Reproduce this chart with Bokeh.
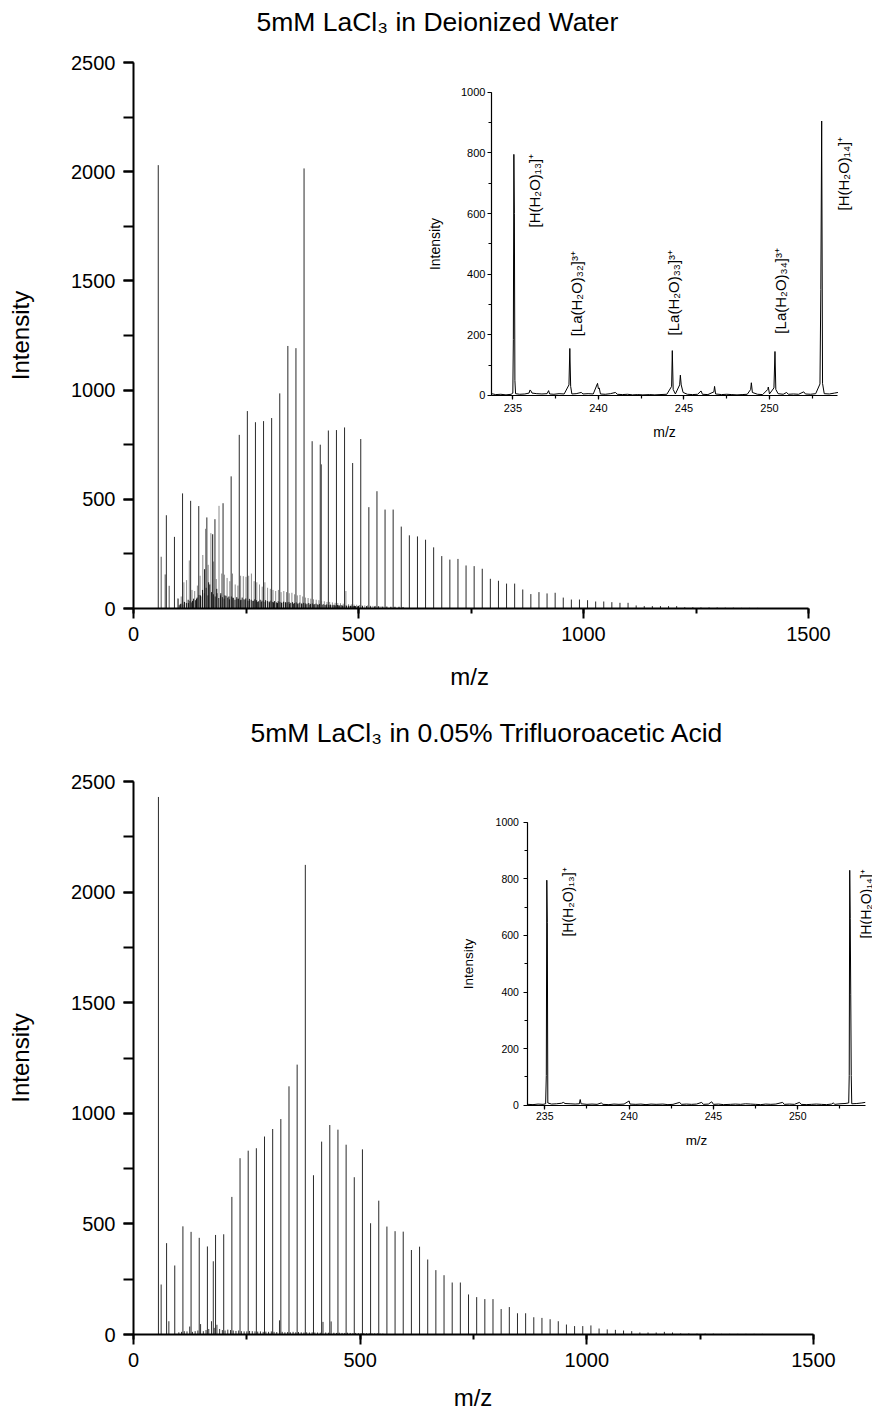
from math import pi
from bokeh.plotting import figure
from bokeh.models import (Range1d, SingleIntervalTicker, FixedTicker, ColumnDataSource, LabelSet, LinearAxis,
                          Title)
from bokeh.layouts import column
from bokeh.embed import file_html
from bokeh.resources import INLINE
from bokeh.core.properties import value

FONT = "Liberation Sans"

# ---------------- data ----------------
# protonated water clusters H+(H2O)n, n = 3 ... 77
water_mz = [55, 73, 91, 109, 127, 145, 163, 181, 199, 217, 235, 253, 271, 289, 307, 325, 343, 361, 379, 397,
            415, 433, 451, 469, 487, 505, 523, 541, 559, 577, 595, 613, 631, 649, 667, 685, 703, 721, 739, 757,
            775, 793, 811, 829, 847, 865, 883, 901, 919, 937, 955, 973, 991, 1009, 1027, 1045, 1063, 1081, 1099, 1117,
            1135, 1153, 1171, 1189, 1207, 1225, 1243, 1261, 1279, 1297, 1315, 1333, 1351, 1369, 1387]
water_int_dw = [2030, 427, 328, 527, 493, 469, 417, 409, 482, 605,
                795, 904, 853, 858, 872, 985, 1202, 1192, 2015, 766,
                750, 815, 817, 829, 666, 776, 464, 537, 453, 453,
                375, 335, 330, 315, 280, 240, 224, 227, 197, 194,
                182, 136, 127, 114, 114, 87, 66, 75, 69, 72,
                50, 41, 41, 38, 32, 32, 29, 26, 26, 14,
                11, 11, 11, 11, 11, 6, 6, 5, 5, 5,
                4, 4, 3, 3, 3]
water_int_tfa = [2430, 413, 312, 489, 464, 437, 398, 450, 453, 622,
                 797, 831, 842, 895, 929, 974, 1122, 1220, 2123, 720,
                 872, 947, 926, 858, 711, 837, 503, 605, 488, 467,
                 465, 382, 397, 339, 291, 268, 235, 235, 181, 169,
                 160, 160, 115, 124, 96, 96, 78, 75, 69, 60,
                 45, 38, 38, 41, 27, 23, 21, 18, 15, 9,
                 9, 9, 12, 9, 5, 5, 4, 4, 4, 3,
                 3, 3, 3, 3, 3]

# La(H2O)n 3+ region (6 m/z spacing)
la3_mz = [100, 106, 112, 118, 124, 130, 136, 142, 148, 154, 160, 166, 172, 178, 184, 190, 196, 202, 208, 214,
          220, 226, 232, 238, 244, 250, 256, 262, 268, 274, 280, 286, 292, 298, 304, 310, 316, 322, 328, 334,
          340, 346, 352, 358, 364, 370, 376, 382, 388, 394, 400, 406, 412, 418, 424, 430, 436, 442, 448, 454,
          460, 466, 472, 478, 484, 490, 496, 502, 508, 514, 520, 526, 532, 538, 544, 550]
la3_int_dw = [45, 55, 120, 130, 220, 85, 80, 105, 150, 245,
              365, 200, 345, 215, 135, 470, 160, 155, 140, 125,
              160, 110, 105, 150, 148, 145, 150, 160, 125, 120,
              110, 100, 120, 95, 90, 85, 80, 85, 75, 80,
              75, 70, 72, 65, 60, 62, 55, 50, 48, 45,
              42, 40, 38, 35, 33, 30, 30, 28, 26, 25,
              24, 22, 80, 20, 19, 18, 17, 16, 15, 14,
              14, 13, 12, 12, 11, 10]
la3_int_tfa = [10, 12, 15, 14, 36, 12, 15, 18, 47, 15,
               20, 25, 60, 30, 44, 25, 20, 18, 22, 20,
               18, 16, 18, 15, 14, 14, 16, 15, 14, 13,
               14, 12, 13, 12, 14, 12, 11, 64, 12, 10,
               11, 10, 12, 10, 11, 10, 9, 10, 9, 10,
               9, 9, 8, 57, 9, 8, 59, 8, 7, 8,
               7, 7, 8, 7, 6, 7, 6, 6, 6, 5,
               5, 5, 5, 5, 4, 4]

# doubly charged series (9 m/z spacing), deionized water only
la2_mz = [104, 113, 122, 131, 140, 149, 158, 167, 176, 185, 194, 203, 212, 221, 230, 239, 248, 257, 266, 275,
          284, 293, 302, 311, 320, 329, 338, 347, 356, 365, 374, 383, 392, 401, 410, 419, 428, 437, 446, 455,
          464, 473, 482, 491, 500, 509, 518, 527, 536, 545, 554, 563, 572, 581, 590, 599]
la2_int_dw = [20, 30, 25, 35, 45, 60, 180, 120, 340, 90,
              70, 60, 55, 50, 45, 40, 40, 35, 35, 30,
              30, 30, 28, 28, 25, 25, 25, 22, 22, 20,
              20, 18, 18, 18, 16, 16, 15, 15, 14, 14,
              13, 13, 12, 12, 12, 11, 11, 10, 10, 10,
              9, 9, 8, 8, 8, 7]

# dense low-level signal band (deionized water)
band_mz = [101.5, 105.5, 109.5, 113.5, 117.5, 121.5, 125.5, 129.5, 133.5, 137.5,
           141.5, 145.5, 149.5, 153.5, 157.5, 161.5, 165.5, 169.5, 173.5, 177.5,
           181.5, 185.5, 189.5, 193.5, 197.5, 201.5, 205.5, 209.5, 213.5, 217.5,
           221.5, 225.5, 229.5, 233.5, 237.5, 241.5, 245.5, 249.5, 253.5, 257.5,
           261.5, 265.5, 269.5, 273.5, 277.5, 281.5, 285.5, 289.5, 293.5, 297.5,
           301.5, 305.5, 309.5, 313.5, 317.5, 321.5, 325.5, 329.5, 333.5, 337.5,
           341.5, 345.5, 349.5, 353.5, 357.5, 361.5, 365.5, 369.5, 373.5, 377.5,
           381.5, 385.5, 389.5, 393.5, 397.5, 401.5, 405.5, 409.5, 413.5, 417.5,
           421.5, 425.5, 429.5, 433.5, 437.5, 441.5, 445.5, 449.5, 453.5, 457.5,
           461.5, 465.5, 469.5, 473.5, 477.5, 481.5, 485.5, 489.5, 493.5, 497.5]
band_int_dw = [15, 22, 18, 30, 25, 40, 35, 28, 45, 38,
               50, 62, 55, 85, 70, 95, 60, 110, 75, 65,
               55, 70, 48, 60, 52, 45, 58, 50, 42, 55,
               48, 40, 52, 45, 38, 50, 42, 46, 36, 44,
               40, 35, 42, 38, 33, 40, 36, 30, 38, 34,
               32, 36, 30, 34, 28, 33, 30, 27, 31, 29,
               28, 30, 26, 29, 25, 28, 24, 27, 23, 26,
               24, 22, 25, 21, 23, 20, 22, 19, 21, 18,
               20, 17, 19, 16, 18, 15, 17, 14, 16, 14,
               15, 13, 14, 12, 13, 12, 12, 11, 11, 10]

# other single peaks
extra_mz_dw = [61.5, 70.4, 79.3, 98.5, 417.5]
extra_int_dw = [237, 156, 104, 46, 660]
extra_mz_tfa = [61, 78, 176]
extra_int_tfa = [226, 60, 331]

# inset spectra (zoom 234 - 254 m/z)
inset_dw_mz = [233.75, 234.0, 234.3, 234.6, 234.9, 235.0, 235.03, 235.06, 235.09, 235.12, 235.16, 235.4, 235.7,
               235.95, 236.0, 236.05, 236.12, 236.4, 236.7, 237.0, 237.09, 237.15, 237.4, 237.7, 238.0, 238.28,
               238.33, 238.38, 238.45, 238.7, 239.0, 239.1, 239.4, 239.7, 239.95, 240.0, 240.05, 240.12, 240.4,
               240.7, 241.0, 241.1, 241.4, 241.7, 242.0, 242.3, 242.6, 243.0, 243.3, 243.6, 244.0, 244.28, 244.32,
               244.37, 244.5, 244.75, 244.79, 244.84, 244.95, 245.2, 245.5, 245.8, 246.0, 246.08, 246.4, 246.75,
               246.79, 246.85, 247.2, 247.5, 247.8, 248.1, 248.4, 248.7, 248.9, 248.94, 249.0, 249.3, 249.6,
               249.9, 249.93, 250.0, 250.26, 250.32, 250.37, 250.5, 250.8, 251.0, 251.1, 251.4, 251.7, 252.0,
               252.1, 252.4, 252.7, 252.95, 253.0, 253.05, 253.1, 253.2, 253.5, 253.8, 254.0]
inset_dw_int = [6, 3, 4, 2, 4, 8, 185, 795, 600, 50, 6, 4, 5,
                8, 18, 16, 8, 6, 5, 6, 16, 5, 4, 6, 5, 35,
                155, 30, 5, 6, 10, 5, 6, 5, 40, 22, 25, 5, 4,
                6, 10, 4, 3, 4, 2, 3, 2, 3, 2, 3, 4, 30, 148,
                20, 5, 35, 67, 35, 10, 4, 3, 4, 15, 4, 3, 12,
                30, 5, 3, 4, 3, 2, 3, 4, 20, 42, 10, 4, 3,
                20, 28, 5, 25, 145, 20, 6, 4, 10, 4, 5, 4, 12,
                5, 4, 6, 38, 350, 905, 40, 6, 5, 8, 10]
inset_tfa_mz = [234.0, 234.3, 234.6, 234.9, 235.05, 235.09, 235.12, 235.15, 235.18, 235.4, 235.7, 236.0, 236.1,
                236.2, 236.5, 236.8, 237.05, 237.1, 237.15, 237.5, 237.8, 238.1, 238.35, 238.45, 238.8, 239.1,
                239.4, 239.7, 240.0, 240.05, 240.4, 240.7, 241.0, 241.3, 241.6, 242.0, 242.3, 242.6, 243.0, 243.1,
                243.4, 243.7, 244.0, 244.3, 244.4, 244.7, 244.9, 245.0, 245.3, 245.6, 246.0, 246.3, 246.6, 246.9,
                247.2, 247.5, 247.8, 248.1, 248.4, 248.7, 249.1, 249.2, 249.5, 249.8, 250.1, 250.2, 250.5, 250.8,
                251.1, 251.4, 251.7, 252.0, 252.1, 252.2, 252.5, 252.8, 253.02, 253.05, 253.08, 253.11, 253.14,
                253.17, 253.2, 253.5, 253.8, 254.0]
inset_tfa_int = [3, 2, 4, 3, 5, 105, 795, 645, 8, 4, 5, 7, 10,
                 6, 5, 4, 5, 20, 5, 3, 4, 3, 8, 3, 2, 4,
                 3, 4, 15, 4, 3, 4, 2, 4, 3, 4, 2, 3, 10, 3,
                 4, 3, 4, 10, 3, 4, 12, 3, 4, 2, 3, 4, 3, 5,
                 4, 3, 2, 4, 3, 4, 10, 3, 4, 3, 10, 3, 2, 3,
                 4, 3, 2, 4, 8, 3, 5, 6, 8, 105, 830, 660, 390,
                 105, 5, 6, 8, 10]

# inset annotations
ann_dw_text = ["[H(H\u2082O)\u2081\u2083]\u207a", "[La(H\u2082O)\u2083\u2082]\u00b3\u207a",
               "[La(H\u2082O)\u2083\u2083]\u00b3\u207a", "[La(H\u2082O)\u2083\u2084]\u00b3\u207a",
               "[H(H\u2082O)\u2081\u2084]\u207a"]
ann_dw_x = [236.27, 238.70, 244.40, 250.65, 254.31]
ann_dw_y = [554, 195, 198, 204, 610]
ann_tfa_text = ["[H(H\u2082O)\u2081\u2083]\u207a", "[H(H\u2082O)\u2081\u2084]\u207a"]
ann_tfa_x = [236.38, 254.07]
ann_tfa_y = [596, 589]

TITLE_DW = "5mM LaCl\u2083 in Deionized Water"
TITLE_TFA = "5mM LaCl\u2083 in 0.05% Trifluoroacetic Acid"
NB = "\u00a0"

STICK = "#2a2a2a"


def style_axis(ax, tick_font, label_font, tick_out, minor_out, lw, lab_standoff, tick_standoff):
    ax.axis_line_width = lw
    ax.axis_line_color = "black"
    ax.major_tick_line_width = lw
    ax.minor_tick_line_width = lw
    ax.major_tick_line_color = "black"
    ax.minor_tick_line_color = "black"
    ax.major_tick_in = 0
    ax.minor_tick_in = 0
    ax.major_tick_out = tick_out
    ax.minor_tick_out = minor_out
    ax.major_label_text_font = FONT
    ax.major_label_text_font_size = tick_font
    ax.major_label_text_color = "black"
    ax.axis_label_text_font = FONT
    ax.axis_label_text_font_size = label_font
    ax.axis_label_text_font_style = "normal"
    ax.axis_label_text_color = "black"
    ax.axis_label_standoff = lab_standoff
    ax.major_label_standoff = tick_standoff


def make_panel(title, tsize, title_gap, toffset, height, mb_top, mb_bottom, x_end,
               xlab_standoff, xlab_pad, series, inset):
    p = figure(width=872, height=height, x_range=Range1d(0, x_end), y_range=Range1d(0, 2500),
               output_backend="svg", toolbar_location=None, title=None,
               min_border_left=133, min_border_right=0,
               min_border_top=mb_top, min_border_bottom=mb_bottom)
    p.outline_line_color = None
    p.grid.visible = False

    xax = p.xaxis[0]
    yax = p.yaxis[0]
    xax.ticker = SingleIntervalTicker(interval=500, num_minor_ticks=2)
    yax.ticker = SingleIntervalTicker(interval=500, num_minor_ticks=2)
    xax.bounds = (0, 1500)
    xax.axis_label = "m/z" + NB * xlab_pad
    yax.axis_label = "Intensity"
    style_axis(xax, "20px", "24px", 10, 5, 2, xlab_standoff, 8)
    style_axis(yax, "20px", "24px", 10, 10, 2, 34, 8)

    # blank spacer between plot area and title, then the title
    gap = LinearAxis(ticker=FixedTicker(ticks=[750]), axis_line_color="white",
                     major_tick_line_color="white", minor_tick_line_color="white",
                     major_label_overrides={750: ""}, major_label_text_font_size="1px",
                     major_tick_in=0, minor_tick_in=0, major_tick_out=title_gap, minor_tick_out=0,
                     major_label_standoff=0)
    p.add_layout(gap, "above")
    p.add_layout(Title(text=title, text_font=FONT, text_font_size=tsize, text_font_style="normal",
                       text_color="black", align="left", offset=toffset, standoff=2), "above")

    for mz, inten, col in series:
        src = ColumnDataSource(dict(x=mz, y0=[0] * len(mz), y1=inten))
        p.segment(x0="x", y0="y0", x1="x", y1="y1", source=src, line_color=col, line_width=1)

    # ----- inset drawn on its own ranges -----
    (ixr, iyr, xb, mz, inten, ann, tick_font, label_font, ann_font,
     y_tick_standoff, y_lab_standoff, x_tick_standoff, x_lab_standoff) = inset
    p.extra_x_ranges = {"ix": Range1d(*ixr)}
    p.extra_y_ranges = {"iy": Range1d(*iyr)}
    ax_x = LinearAxis(x_range_name="ix", y_range_name="iy", fixed_location=0, bounds=xb,
                      ticker=SingleIntervalTicker(interval=5, num_minor_ticks=2), axis_label="m/z")
    ax_y = LinearAxis(x_range_name="ix", y_range_name="iy", fixed_location=xb[0], bounds=(0, 1000),
                      ticker=SingleIntervalTicker(interval=200, num_minor_ticks=2), axis_label="Intensity")
    style_axis(ax_x, tick_font, label_font, 4, 3, 1.2, x_lab_standoff, x_tick_standoff)
    style_axis(ax_y, tick_font, label_font, 4, 3, 1.2, y_lab_standoff, y_tick_standoff)
    p.add_layout(ax_x, "below")
    p.add_layout(ax_y, "left")
    p.line(mz, inten, line_color="black", line_width=1, x_range_name="ix", y_range_name="iy")
    txt, axx, ayy = ann
    src = ColumnDataSource(dict(x=axx, y=ayy, text=txt))
    p.add_layout(LabelSet(x="x", y="y", text="text", source=src, angle=pi / 2,
                          x_range_name="ix", y_range_name="iy",
                          text_align="left", text_baseline="middle",
                          text_font=value(FONT), text_font_size=ann_font, text_color="black"))
    return p


main_top = make_panel(TITLE_DW, "26.5px", 25, 123, 704, 62, 96, 1642.2, 19, 10,
                      [(la3_mz, la3_int_dw, "#8a8a8a"), (la2_mz, la2_int_dw, "#111111"),
                       (band_mz, band_int_dw, "#1a1a1a"),
                       (extra_mz_dw, extra_int_dw, "#555555"), (water_mz, water_int_dw, STICK)],
                      ((212.83, 256.02), (-702.3, 1097.9), (233.75, 254),
                       inset_dw_mz, inset_dw_int, (ann_dw_text, ann_dw_x, ann_dw_y),
                       "11px", "14px", "15px", 2, 15, 5, 8))
main_bot = make_panel(TITLE_TFA, "26.5px", 33, 117, 712, 77, 82, 1630.15, 14, 9,
                      [(la3_mz, la3_int_tfa, "#333333"),
                       (extra_mz_tfa, extra_int_tfa, "#333333"), (water_mz, water_int_tfa, STICK)],
                      ((210.615, 254.43), (-810.2, 1143.8), (234, 254),
                       inset_tfa_mz, inset_tfa_int, (ann_tfa_text, ann_tfa_x, ann_tfa_y),
                       "10.5px", "13.5px", "14px", 5, 16, 3, 9))

root = column(main_top, main_bot)
open("out.html", "w").write(file_html(root, INLINE))
